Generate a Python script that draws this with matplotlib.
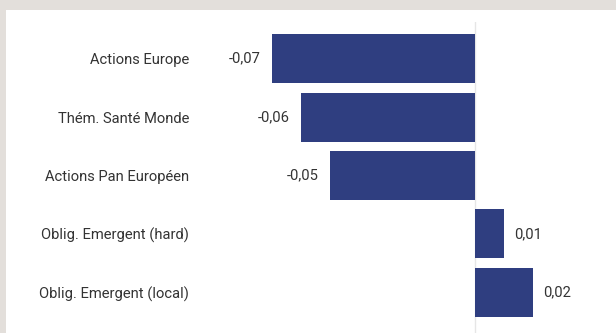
import matplotlib
matplotlib.use("Agg")
import matplotlib.pyplot as plt
from matplotlib.patches import Rectangle

# contributions par poche
categories = ["Actions Europe", "Thém. Santé Monde", "Actions Pan Européen",
              "Oblig. Emergent (hard)", "Oblig. Emergent (local)"]
values = [-0.07, -0.06, -0.05, 0.01, 0.02]

BAR = "#2f3e80"
TXT = "#333333"
FS = 10.6
plt.rcParams["font.family"] = ["Roboto", "DejaVu Sans"]

W, H = 616, 333
fig = plt.figure(figsize=(W / 100, H / 100), dpi=100, facecolor="#e3dfdb")
# panneau blanc, derrière les axes
fig.add_artist(Rectangle((6 / W, 0), 1, (H - 10) / H, transform=fig.transFigure,
                         facecolor="white", edgecolor="none", zorder=-10))

x0, x1 = -0.075, 0.03
px_left, px_right = 257.5, 562
ax = fig.add_axes([px_left / W, 0, (px_right - px_left) / W, (H - 22) / H])
ax.set_facecolor("none")

y = range(len(categories))
ax.barh(y, values, height=0.84, color=BAR, zorder=2)
ax.axvline(0, color="#e6e6e6", lw=1, zorder=1)

for i, v in enumerate(values):
    lab = f"{v:.2f}".replace(".", ",")
    if v < 0:
        ax.annotate(lab, (v, i), xytext=(-8, 0), textcoords="offset points",
                    ha="right", va="center", fontsize=FS, color=TXT)
    else:
        ax.annotate(lab, (v, i), xytext=(7, 0), textcoords="offset points",
                    ha="left", va="center", fontsize=FS, color=TXT)

ax.set_xlim(x0, x1)
ax.set_ylim(4.697, -0.628)
ax.set_yticks(list(y))
ax.set_yticklabels(categories, fontsize=FS, color=TXT)
ax.tick_params(axis="y", length=0, pad=(px_left - 189) * 0.72)
ax.set_xticks([])
for s in ax.spines.values():
    s.set_visible(False)

fig.savefig("out.png", dpi=100, facecolor=fig.get_facecolor())
